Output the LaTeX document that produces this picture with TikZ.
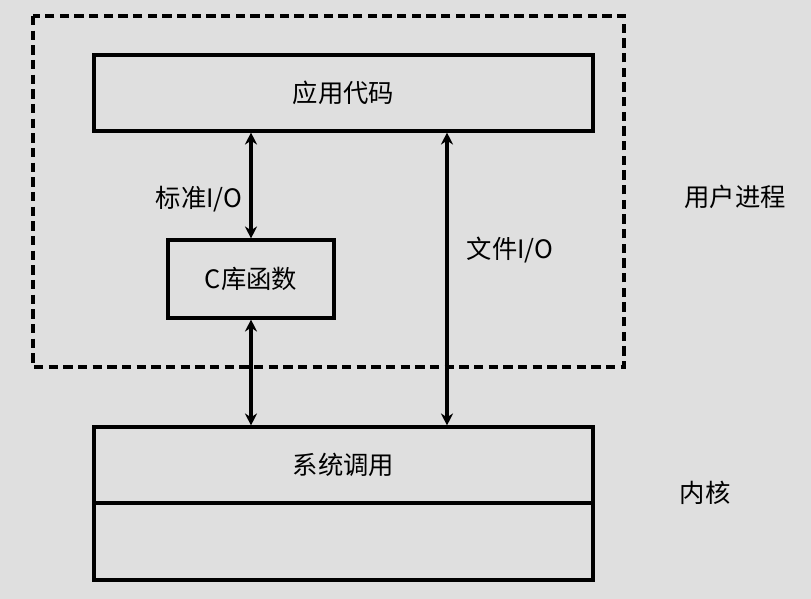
\documentclass[tikz,border=0pt]{standalone}
\usepackage{fontspec}
\setmainfont{Noto Sans CJK SC}
\usetikzlibrary{positioning,arrows.meta,backgrounds}
\tikzset{
	box/.style={draw=black,line width=2.3pt,inner sep=0pt,font=\fontsize{19}{22}\selectfont},
	lbl/.style={font=\fontsize{19}{22}\selectfont},
	arrow/.style={line width=2.4pt,{Stealth[length=9pt,width=9pt]}-{Stealth[length=9pt,width=9pt]}}
}
\begin{document}
\begin{tikzpicture}[x=0.75pt,y=-0.75pt]
			\fill[gray!25] (0,0) rectangle (811,599);
			\useasboundingbox (0,0) rectangle (811,599);
			\draw[line width=2.3pt,dash pattern=on 7pt off 4pt] (33,16) rectangle (624,367);
			\node[box,minimum width=499*0.75pt,minimum height=76*0.75pt] (app) at (343.5,93) {应用代码};
			\node[box,minimum width=166*0.75pt,minimum height=78*0.75pt] (clib) at (251,279) {C库函数};
			\node[box,minimum width=499*0.75pt,minimum height=76*0.75pt] (sys) at (343.5,465) {系统调用};
			\node[box,minimum width=499*0.75pt,minimum height=77*0.75pt,below=-2.3pt of sys] (kern) {};
			\coordinate (fio) at (447,0);
			
			\draw[arrow] (app.south -| clib) -- node[lbl,left=2pt,yshift=-10pt] {标准I/O} (clib.north);
			\draw[arrow] (clib.south) -- (sys.north -| clib);
			\draw[arrow] (app.south -| fio) -- (sys.north -| fio);
			\node[lbl] (filelbl) at (510,250) {文件I/O};
			\node[lbl] (user) at (735,197) {用户进程};
			\node[lbl] (kernel) at (705,493) {内核};
		\end{tikzpicture}
\end{document}
